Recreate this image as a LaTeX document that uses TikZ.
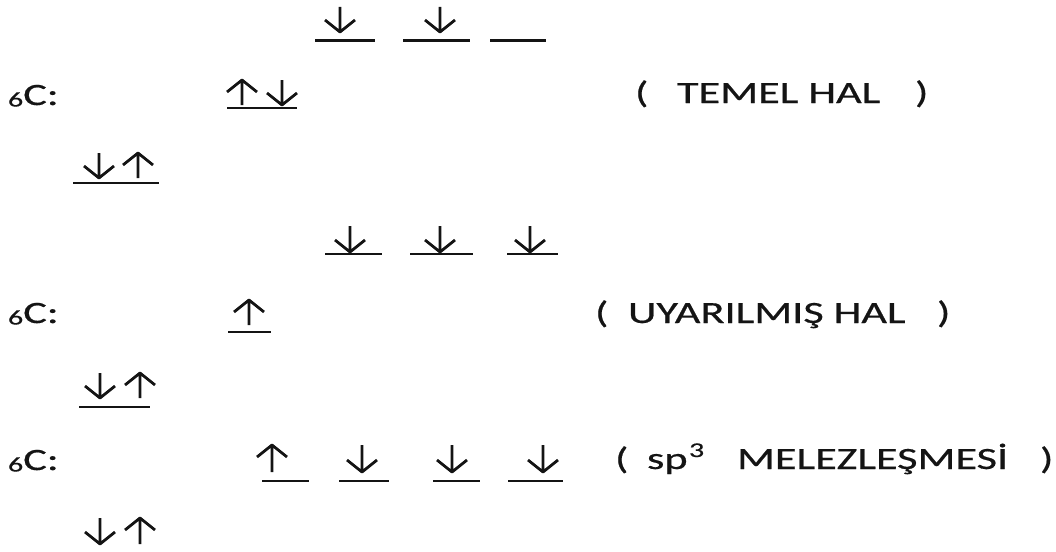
\documentclass[tikz,border=0pt]{standalone}
\usepackage{fontspec}
\setmainfont{Carlito}
\newfontfamily\thick{Carlito}[FakeBold=0.5]
\definecolor{ink}{HTML}{141414}
\newcommand\wide[1]{\scalebox{1.43}[1]{#1}}
\newcommand\spinup[3]{\draw[spin] (#1,#3) -- (#1,#2) (#1-15,#2+12) -- (#1,#2) -- (#1+15,#2+12);}
\newcommand\spindn[3]{\draw[spin] (#1,#2) -- (#1,#3) (#1-15,#3-12) -- (#1,#3) -- (#1+15,#3-12);}
\newcommand\carbon{\raisebox{-1.5pt}{\fontsize{21}{21}\selectfont 6}C:}
\tikzset{
  lbl/.style={anchor=base west, inner sep=0pt, outer sep=0pt, text=ink, font=\thick\fontsize{31}{31}\selectfont},
  supl/.style={anchor=base west, inner sep=0pt, outer sep=0pt, text=ink, font=\thick\fontsize{21}{21}\selectfont},
  shelf/.style={line width=2.2pt, draw=ink},
  spin/.style={line width=2.8pt, draw=ink, line cap=butt, line join=round},
}
\begin{document}
\begin{tikzpicture}[x=1pt, y=-1pt]
\useasboundingbox (0,0) rectangle (1056,551);
% ---------- ground state ----------
\draw[shelf] (315,40.5) -- (375,40.5);
\draw[shelf] (403,40.5) -- (470,40.5);
\draw[shelf] (490,40.5) -- (546,40.5);
\spindn{340}{7}{32}
\spindn{440}{7}{32}
\node[lbl] (c1) at (8,105) {\wide{\carbon}};
\draw[shelf] (227,108) -- (297,108);
\spinup{242}{80}{105}
\spindn{282}{80}{105}
\node[lbl] (o1) at (635,103) {\wide{(}};
\node[lbl] (t1) at (677,103) {\wide{TEMEL HAL}};
\node[lbl] (e1) at (915,103) {\wide{)}};
\draw[shelf] (73,183) -- (159,183);
\spindn{99}{153}{178}
\spinup{138}{153}{178}
% ---------- excited state ----------
\draw[shelf] (325,254) -- (382,254);
\draw[shelf] (410,254) -- (473,254);
\draw[shelf] (507,254) -- (558,254);
\spindn{350}{226}{252}
\spindn{440}{226}{252}
\spindn{530}{226}{252}
\node[lbl] (c2) at (8,323) {\wide{\carbon}};
\draw[shelf] (228,332) -- (271,332);
\spinup{249}{300}{325}
\node[lbl] (o2) at (595,323) {\wide{(}};
\node[lbl] (t2) at (628,323) {\wide{UYARILMIŞ HAL}};
\node[lbl] (e2) at (937,323) {\wide{)}};
\draw[shelf] (79,407) -- (150,407);
\spindn{100}{373}{398}
\spinup{140}{373}{398}
% ---------- sp3 ----------
\node[lbl] (c3) at (8,470) {\wide{\carbon}};
\draw[shelf] (262,481) -- (309,481);
\draw[shelf] (339,481) -- (389,481);
\draw[shelf] (433,481) -- (480,481);
\draw[shelf] (508,481) -- (563,481);
\spinup{272}{445}{472}
\spindn{362}{445}{472}
\spindn{452}{445}{472}
\spindn{543}{445}{472}
\node[lbl] (o3) at (615,469) {\wide{(}};
\node[lbl] (s3) at (647,469) {\wide{sp}};
\node[supl] (p3) at (689,457) {\wide{3}};
\node[lbl] (t3) at (737,469) {\wide{MELEZLEŞMESİ}};
\node[lbl] (e3) at (1040,469) {\wide{)}};
\spindn{100}{518}{544}
\spinup{140}{518}{544}
\end{tikzpicture}
\end{document}
